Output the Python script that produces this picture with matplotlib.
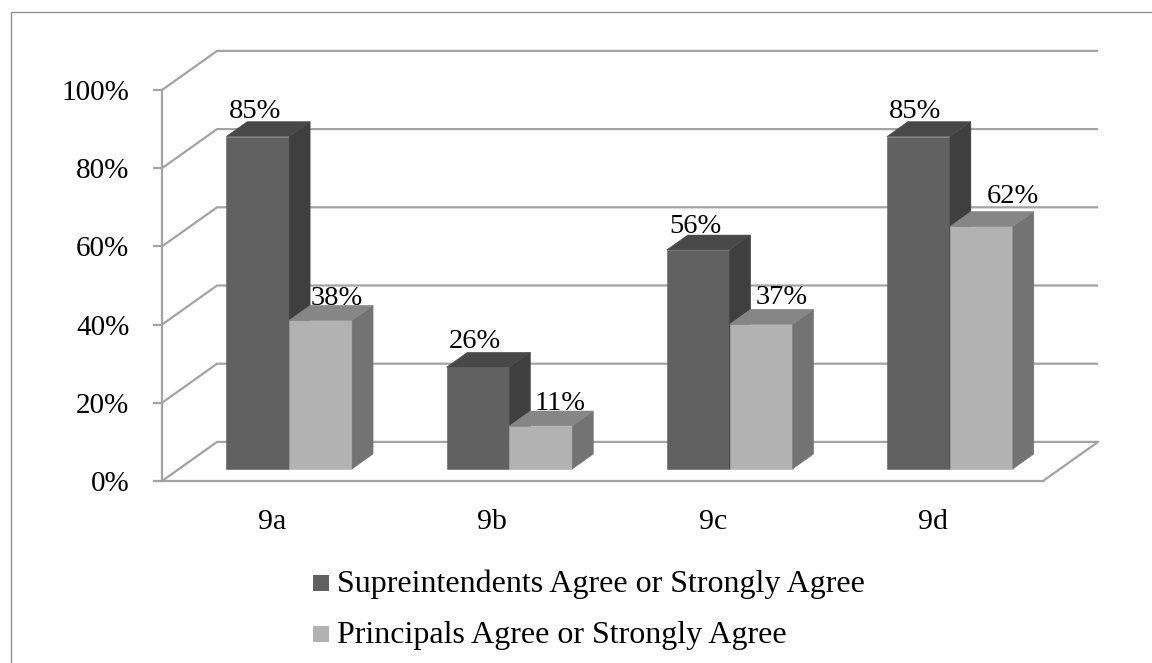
import matplotlib
matplotlib.use("Agg")
import matplotlib.pyplot as plt
from matplotlib.patches import Polygon, Rectangle
from matplotlib.lines import Line2D

# ---- data -------------------------------------------------------------
categories = ["9a", "9b", "9c", "9d"]
superintendents = [85, 26, 56, 85]
principals = [38, 11, 37, 62]
series_names = ["Supreintendents Agree or Strongly Agree",
                "Principals Agree or Strongly Agree"]
y_ticks = [0, 20, 40, 60, 80, 100]

# ---- 3-D look settings --------------------------------------------------
# oblique projection: a full unit of depth moves DX categories right and DY percent up
DX, DY = 0.25, 10.0
DEPTH_FRONT, DEPTH_BACK = 0.31, 0.69
BAR_W = 1 / 3.5                      # two bars per group, gap width 150 %

face_colors = [
    {"front": "#616161", "side": "#3f3f3f", "top": "#484848"},
    {"front": "#b2b2b2", "side": "#737373", "top": "#868686"},
]
GRID = "#a3a3a3"

# label nudges in pixels (dx, dy) per series and category
label_nudge = [
    [(-3, 4), (-3, 4), (-3, 2), (-3, 4)],
    [(16, 0), (19, 1), (21, 5), (31, 9)],
]

plt.rcParams["font.family"] = ["Liberation Serif", "DejaVu Serif"]

W, H = 1152, 663
fig = plt.figure(figsize=(W / 100, H / 100), dpi=100)
ax = fig.add_axes([162 / W, (H - 481) / H, 881 / W, 391 / H])
n = len(categories)
ax.set_xlim(0, n)
ax.set_ylim(0, 100)


def proj(x, v, d):
    return (x + DX * d, v + DY * d)


# side wall diagonals and back wall gridlines
for v in y_ticks:
    pts = [proj(0, v, 0), proj(0, v, 1), proj(n, v, 1)]
    ax.add_line(Line2D([p[0] for p in pts], [p[1] for p in pts],
                       color=GRID, lw=1.6, clip_on=False, zorder=1,
                       solid_capstyle="butt"))

# floor outline (front edge is the bottom spine)
pts = [proj(n, 0, 0), proj(n, 0, 1)]
ax.add_line(Line2D([p[0] for p in pts], [p[1] for p in pts],
                   color=GRID, lw=1.6, clip_on=False, zorder=1))

for side in ("top", "right"):
    ax.spines[side].set_visible(False)
for side in ("left", "bottom"):
    ax.spines[side].set_color(GRID)
    ax.spines[side].set_linewidth(1.6)
    ax.spines[side].set_zorder(1)

ax.set_yticks(y_ticks)
ax.set_yticklabels([f"{t}%" for t in y_ticks])
ax.tick_params(axis="y", length=6.5, width=1.6, color=GRID, pad=17,
               labelsize=21, labelcolor="black")
ax.set_xticks([i + 0.5 for i in range(n)])
ax.set_xticklabels(categories)
ax.tick_params(axis="x", length=0, pad=20, labelsize=21.5,
               labelcolor="black")
ax.patch.set_visible(False)

# bars: front faces through ax.bar, side and top faces as polygons
for s, values in enumerate([superintendents, principals]):
    cols = face_colors[s]
    z = 3 + s
    x0s = [i + 0.5 - BAR_W + s * BAR_W for i in range(n)]
    ax.bar([x + DX * DEPTH_FRONT for x in x0s], values, width=BAR_W,
           bottom=DY * DEPTH_FRONT, align="edge", color=cols["front"],
           edgecolor=cols["front"], linewidth=0.4, zorder=z, clip_on=False)
    for i, (x0, v) in enumerate(zip(x0s, values)):
        x1 = x0 + BAR_W
        side_poly = [proj(x1, 0, DEPTH_FRONT), proj(x1, 0, DEPTH_BACK),
                     proj(x1, v, DEPTH_BACK), proj(x1, v, DEPTH_FRONT)]
        top_poly = [proj(x0, v, DEPTH_FRONT), proj(x1, v, DEPTH_FRONT),
                    proj(x1, v, DEPTH_BACK), proj(x0, v, DEPTH_BACK)]
        ax.add_patch(Polygon(side_poly, closed=True, facecolor=cols["side"],
                             edgecolor=cols["side"], lw=0.4, zorder=z,
                             clip_on=False))
        ax.add_patch(Polygon(top_poly, closed=True, facecolor=cols["top"],
                             edgecolor=cols["top"], lw=0.4, zorder=z,
                             clip_on=False))
        dx, dy = label_nudge[s][i]
        ax.annotate(f"{v}%",
                    xy=(x0 + BAR_W / 2 + DX * DEPTH_FRONT, v + DY * DEPTH_BACK),
                    xytext=(dx * 0.72, dy * 0.72), textcoords="offset points",
                    ha="center", va="baseline", fontsize=20.5, color="black",
                    zorder=6, annotation_clip=False)

# legend
legend_rows = [(575, 592), (626, 643)]
for s, (top_px, base_px) in enumerate(legend_rows):
    fig.add_artist(Rectangle((313 / W, 1 - (top_px + 16) / H), 16 / W, 16 / H,
                             transform=fig.transFigure,
                             facecolor=face_colors[s]["front"],
                             edgecolor="none"))
    fig.text(337 / W, 1 - base_px / H, series_names[s], fontsize=23,
             va="baseline", ha="left", color="black")

# chart-area border
fig.add_artist(Rectangle((11 / W, -0.1), 1.2, 1 - 12 / H + 0.1,
                         transform=fig.transFigure, fill=False,
                         edgecolor="#8a8a8a", linewidth=0.9))

fig.savefig("out.png", dpi=100)
